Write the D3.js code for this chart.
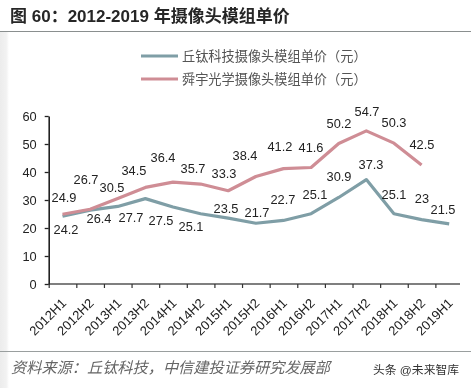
<!DOCTYPE html>
<html><head><meta charset="utf-8">
<script src="https://cdn.jsdelivr.net/npm/d3@7/dist/d3.min.js"></script>
<style>html,body{margin:0;padding:0;background:#fff}svg{display:block}</style>
</head><body><div id="c"></div>
<script>
const categories=["2012H1","2012H2","2013H1","2013H2","2014H1","2014H2","2015H1","2015H2","2016H1","2016H2","2017H1","2017H2","2018H1","2018H2","2019H1"];
const qtechValues=[24.2,26.4,27.7,30.5,27.5,25.1,23.5,21.7,22.7,25.1,30.9,37.3,25.1,23,21.5];
const qtechLabels=["24.2","26.4","27.7",null,"27.5","25.1","23.5","21.7","22.7","25.1","30.9","37.3","25.1","23","21.5"];
const sunnyValues=[24.9,26.7,30.5,34.5,36.4,35.7,33.3,38.4,41.2,41.6,50.2,54.7,50.3,42.5];
const yTicks=[0,10,20,30,40,50,60];
const qtechName="丘钛科技摄像头模组单价（元）";
const sunnyName="舜宇光学摄像头模组单价（元）";
// label offsets from each point, in pixels
const qtechOffset=[[3.5,12.8],[8.9,8.9],[13.3,10.6],[0,0],[-12,13],[-9.6,12.3],[-2.2,-10.2],[1.2,-11.2],[-0.5,-21.4],[3.9,-19.7],[0.3,-20.5],[4.7,-14.6],[0.1,-19.7],[0.4,-21.6],[-6.2,-14.8]];
const sunnyOffset=[[1.5,-16.3],[-4.1,-30.2],[-5.7,-11.6],[-11.4,-17.4],[-10,-24.1],[-7.6,-16],[-4.2,-16.8],[-10.8,-20.5],[-3.5,-22.6],[-0.1,-20.5],[0.3,-20.4],[0.7,-19.8],[0.1,-20.2],[0.4,-21]];

const W=471,H=388;
const svg=d3.select("#c").append("svg").attr("width",W).attr("height",H);
const font="'Liberation Sans',Arial,'Noto Sans CJK SC',sans-serif";
const defs=svg.append("defs");
const g0=defs.append("linearGradient").attr("id","edge");
g0.append("stop").attr("offset",0).attr("stop-color","#ececec");
g0.append("stop").attr("offset",0.7).attr("stop-color","#f2f2f2");
g0.append("stop").attr("offset",1).attr("stop-color","#ffffff");
defs.append("filter").attr("id","soft").attr("x","-5%").attr("y","-5%").attr("width","110%").attr("height","110%")
  .append("feGaussianBlur").attr("stdDeviation",0.45);

const root=svg.append("g").attr("filter","url(#soft)");
root.append("rect").attr("x",0).attr("y",0).attr("width",W).attr("height",H).attr("fill","#fff");
root.append("rect").attr("x",0).attr("y",32).attr("width",9).attr("height",H-32).attr("fill","url(#edge)");

root.append("text").attr("x",10).attr("y",21.5).attr("font-family",font).attr("font-weight",700)
  .attr("font-size",17).attr("fill","#262626").text("图 60：2012-2019 年摄像头模组单价");
root.append("line").attr("x1",0).attr("x2",W).attr("y1",31.5).attr("y2",31.5).attr("stroke","#8a8f8f").attr("stroke-width",1.2);

const x=d3.scaleBand().domain(categories).range([48.7,463]).paddingInner(0).paddingOuter(0);
const xEdge=d3.scalePoint().domain(categories).range([x.range()[0],x.range()[0]+x.step()*14]);
const y=d3.scaleLinear().domain([0,60]).range([284,116]);
const cx=c=>x(c)+x.step()/2;

const xAxis=root.append("g").attr("transform","translate(0,284)")
  .call(d3.axisBottom(xEdge).tickSize(4).tickSizeOuter(0));
xAxis.select(".domain").attr("stroke","#555").attr("stroke-width",1.4).attr("d","M48.7,0H460");
xAxis.selectAll(".tick line").attr("stroke","#333").attr("stroke-width",1.2);
xAxis.selectAll(".tick text").attr("font-family",font).attr("font-size",13).attr("fill","#222")
  .attr("text-anchor","end").attr("dy",0).attr("y",0)
  .attr("transform",`translate(${x.step()/2+4},20) rotate(-45)`);

const yAxis=root.append("g").attr("transform","translate(48.7,0)")
  .call(d3.axisLeft(y).tickValues(yTicks).tickSize(4).tickPadding(8).tickSizeOuter(0));
yAxis.select(".domain").attr("stroke","#222").attr("stroke-width",1.6);
yAxis.selectAll(".tick line").attr("stroke","#222").attr("stroke-width",1.3);
yAxis.selectAll(".tick text").attr("font-family",font).attr("font-size",12.8).attr("fill","#222");

const line=d3.line().x((d,i)=>cx(categories[i])).y(d=>y(d));
const blue="#7f9ea6",red="#cf8d95";
root.append("path").datum(qtechValues).attr("d",line).attr("fill","none").attr("stroke",blue).attr("stroke-width",3.2).attr("stroke-linejoin","round");
root.append("path").datum(sunnyValues).attr("d",line).attr("fill","none").attr("stroke",red).attr("stroke-width",3.2).attr("stroke-linejoin","round");

function drawLabels(vals,texts,offs){
  const g=root.append("g");
  vals.forEach((v,i)=>{
    if(texts[i]===null)return;
    g.append("text").attr("x",cx(categories[i])+offs[i][0]).attr("y",y(v)+offs[i][1]+4.5)
      .attr("font-family",font).attr("font-size",12.8).attr("fill","#222").attr("text-anchor","middle").text(texts[i]);
  });
}
drawLabels(qtechValues,qtechLabels,qtechOffset);
drawLabels(sunnyValues,sunnyValues.map(String),sunnyOffset);

[[qtechName,blue,56],[sunnyName,red,79]].forEach(([n,c,yy])=>{
  root.append("line").attr("x1",141).attr("x2",178).attr("y1",yy).attr("y2",yy).attr("stroke",c).attr("stroke-width",3);
  root.append("text").attr("x",182).attr("y",yy+4.5).attr("font-family",font).attr("font-size",13.2).attr("fill","#555").text(n);
});

root.append("line").attr("x1",0).attr("x2",W).attr("y1",351.5).attr("y2",351.5).attr("stroke","#9a9f9f").attr("stroke-width",1);
root.append("text").attr("x",11).attr("y",373).attr("font-family",font).attr("font-size",15.2).attr("font-style","italic").attr("fill","#666")
  .text("资料来源：丘钛科技，中信建投证券研究发展部");
root.append("text").attr("x",373).attr("y",374).attr("font-family",font).attr("font-size",11.8).attr("fill","#333").text("头条 @未来智库");
</script></body></html>
